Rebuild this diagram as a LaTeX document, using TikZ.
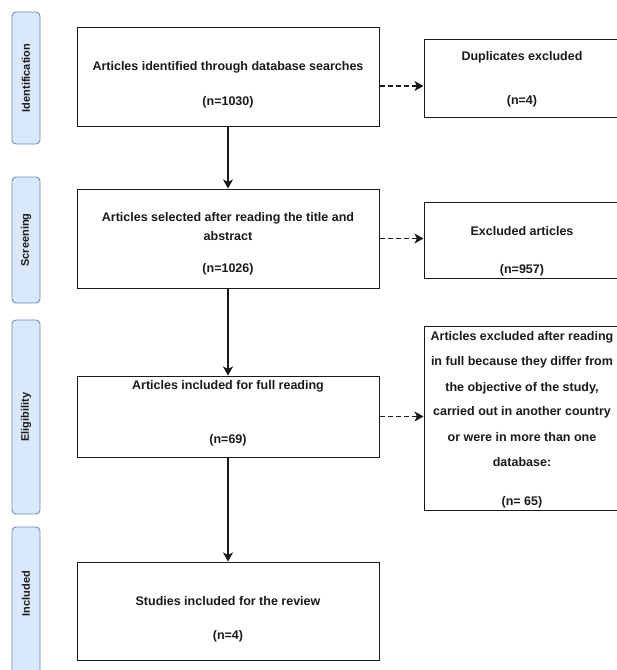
\documentclass[tikz,border=0pt]{standalone}
\usepackage{fontspec}
\setmainfont{Liberation Sans}
\usetikzlibrary{arrows.meta}
\definecolor{stagefill}{HTML}{DAE8FC}
\definecolor{stageline}{HTML}{6C8EBF}
\definecolor{ink}{HTML}{1A1A1A}

\begin{document}
\begin{tikzpicture}[x=1pt,y=-1pt,
  box/.style={draw=ink, line width=1pt, minimum width=302pt, inner sep=0pt},
  sidebox/.style={draw=ink, line width=1pt, minimum width=196pt, inner sep=0pt},
  stage/.style={draw=stageline, fill=stagefill, rounded corners=4pt,
    minimum width=28pt, inner sep=0pt, line width=0.9pt},
  stagetxt/.style={rotate=90, font=\bfseries\fontsize{11}{13}\selectfont, text=ink},
  txt/.style={font=\bfseries\fontsize{12.5}{15}\selectfont, text=ink,
    inner sep=0pt, text height=9pt, text depth=2.5pt},
  flow/.style={-{Stealth[length=9pt,width=10pt,inset=2.5pt]}, line width=1.2pt, draw=ink},
  skip/.style={flow, dash pattern=on 5pt off 3pt}]
  \clip (0,0) rectangle (617,670);

  % stages
  \foreach \nm/\c/\h in {ident/78/132, screen/240/126, elig/417/194, incl/608.5/163}
    \node[stage, minimum height=\h pt] (\nm) at (26,\c) {};
  \foreach \c/\t in {78/Identification, 240/Screening, 417/Eligibility, 593.5/Included}
    \node[stagetxt] at (26,\c) {\t};

  % main boxes
  \node[box, minimum height=99pt] (found) at (228,76.5) {};
  \node[box, minimum height=99pt] (selected) at (228,238.5) {};
  \node[box, minimum height=81pt] (full) at (228,416.5) {};
  \node[box, minimum height=98pt] (studies) at (228,611) {};

  \node[txt] at (228,67) {Articles identified through database searches};
  \node[txt] at (228,102) {(n=1030)};
  \node[txt] at (228,218) {Articles selected after reading the title and};
  \node[txt] at (228,237) {abstract};
  \node[txt] at (228,269) {(n=1026)};
  \node[txt] at (228,386) {Articles included for full reading};
  \node[txt] at (228,440) {(n=69)};
  \node[txt] at (228,602) {Studies included for the review};
  \node[txt] at (228,636) {(n=4)};

  % excluded boxes
  \node[sidebox, minimum height=78pt] (dupl) at (522,78) {};
  \node[sidebox, minimum height=76pt] (excl) at (522,240) {};
  \node[sidebox, minimum height=184pt] (exclfull) at (522,418) {};

  \node[txt] at (522,57) {Duplicates excluded};
  \node[txt] at (522,101) {(n=4)};
  \node[txt] at (522,232) {Excluded articles};
  \node[txt] at (522,270) {(n=957)};
  \foreach \y/\t in {337/Articles excluded after reading,
      362/in full because they differ from,
      388/{the objective of the study,},
      412/carried out in another country,
      438/or were in more than one,
      463/database:,
      502/(n= 65)}
    \node[txt] at (522,\y) {\t};

  % arrows
  \draw[flow] (found) -- (selected);
  \draw[flow] (selected) -- (full);
  \draw[flow] (full) -- (studies);
  \draw[skip] ([yshift=-9.5pt]found.east) -- ([yshift=-9.5pt]found.east -| dupl.west);
  \draw[skip] (selected.east) -- (selected.east -| excl.west);
  \draw[skip] (full.east) -- (full.east -| exclfull.west);
\end{tikzpicture}
\end{document}
